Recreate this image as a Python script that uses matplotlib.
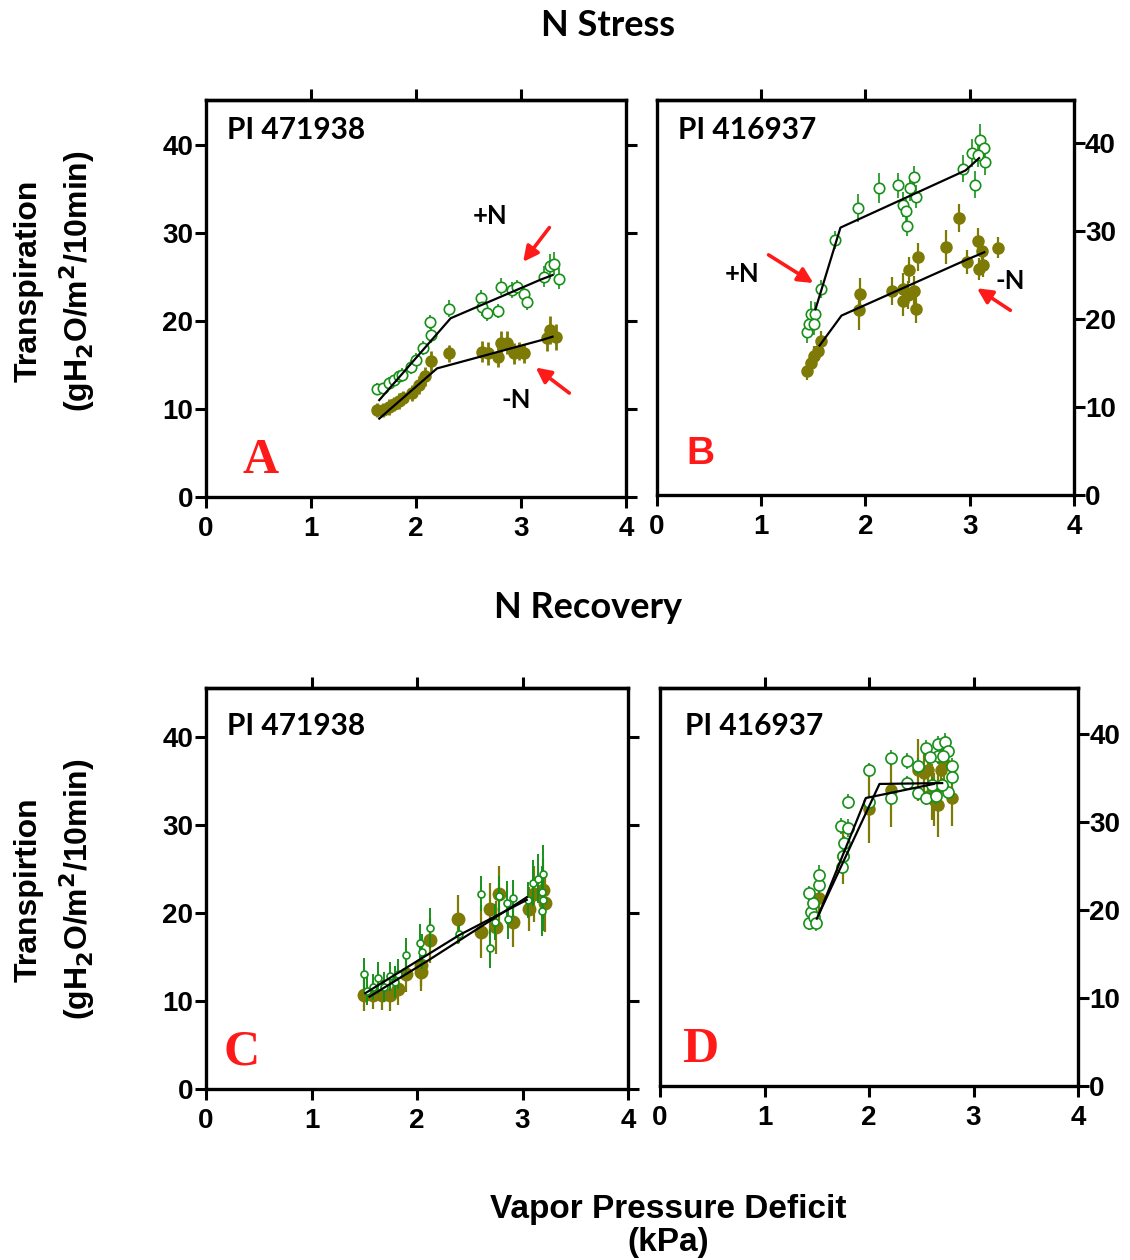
import numpy as np
import matplotlib
matplotlib.use("Agg")
import matplotlib.pyplot as plt

# Data (VPD in kPa, transpiration in g H2O/m2/10min)

# Panel A: N stress, PI 471938
a_plus_x = [1.63, 1.69, 1.74, 1.79, 1.84, 1.87, 1.95, 2.00, 2.07, 2.14, 2.13, 2.31, 2.62, 2.63, 2.68,
            2.78, 2.81, 2.91, 2.96, 3.03, 3.06, 3.22, 3.28, 3.31, 3.36]
a_plus_y = [12.3, 12.4, 12.9, 13.3, 13.7, 13.9, 14.8, 15.6, 16.9, 18.4, 19.9, 21.4, 22.6, 21.6, 20.9,
            21.1, 23.9, 23.5, 23.9, 23.1, 22.2, 25.0, 26.2, 26.5, 24.8]
a_plus_err = [0.6, 0.6, 0.7, 0.6, 0.6, 0.7, 0.8, 0.7, 0.8, 0.9, 0.8, 1.0, 0.9, 1.0, 0.9,
              0.8, 1.0, 0.9, 0.8, 0.9, 1.0, 1.2, 1.4, 1.3, 1.2]
a_minus_x = [1.63, 1.69, 1.74, 1.79, 1.84, 1.88, 1.96, 2.03, 2.09, 2.14, 2.31, 2.63, 2.69, 2.78, 2.81,
             2.87, 2.93, 2.98, 3.03, 3.25, 3.28, 3.33]
a_minus_y = [9.9, 9.9, 10.2, 10.6, 10.9, 11.2, 11.8, 12.7, 13.7, 15.4, 16.3, 16.5, 16.3, 15.9, 17.5,
             17.5, 16.3, 16.6, 16.3, 18.0, 19.0, 18.2]
a_minus_err = [0.8, 0.8, 0.9, 0.8, 0.9, 0.8, 0.9, 1.0, 1.1, 1.2, 1.0, 1.2, 1.3, 1.1, 1.4,
               1.3, 1.2, 1.0, 1.1, 1.4, 1.6, 1.5]
a_fit_plus_x = [1.65, 2.33, 3.19, 3.30]
a_fit_plus_y = [11.0, 20.3, 24.7, 25.2]
a_fit_minus_x = [1.65, 2.20, 3.19, 3.30]
a_fit_minus_y = [8.9, 14.6, 17.8, 18.2]

# Panel B: N stress, PI 416937
b_plus_x = [1.44, 1.46, 1.48, 1.52, 1.51, 1.57, 1.71, 1.93, 2.13, 2.31, 2.43, 2.47, 2.36, 2.39,
            2.40, 2.48, 2.94, 3.02, 3.05, 3.10, 3.14, 3.15, 3.08]
b_plus_y = [18.5, 19.4, 20.6, 20.6, 19.4, 23.4, 29.0, 32.6, 34.9, 35.2, 34.9, 36.1, 33.0, 32.3,
            30.6, 33.9, 37.1, 38.9, 35.3, 40.4, 39.4, 37.9, 38.7]
b_plus_err = [1.2, 1.3, 1.5, 1.4, 1.2, 1.0, 1.0, 1.6, 1.7, 1.4, 1.5, 1.3, 1.4, 1.3,
              1.2, 1.3, 1.5, 1.6, 1.5, 1.8, 1.4, 1.5, 1.4]
b_minus_x = [1.44, 1.48, 1.51, 1.54, 1.57, 1.95, 1.94, 2.25, 2.36, 2.36, 2.41, 2.47, 2.42, 2.50,
             2.48, 2.77, 2.90, 2.97, 3.08, 3.12, 3.09, 3.13, 3.27]
b_minus_y = [14.1, 15.0, 15.8, 16.4, 17.5, 22.9, 21.0, 23.2, 23.4, 22.1, 22.7, 23.2, 25.6, 27.1,
             21.1, 28.2, 31.5, 26.5, 28.9, 27.7, 25.7, 26.2, 28.1]
b_minus_err = [1.0, 1.0, 1.1, 1.0, 1.2, 1.8, 2.2, 1.6, 1.8, 1.7, 1.6, 1.7, 1.5, 1.6,
               1.5, 1.9, 1.6, 1.4, 1.5, 1.4, 1.3, 1.4, 1.2]
b_fit_plus_x = [1.52, 1.76, 2.96, 3.09]
b_fit_plus_y = [21.1, 30.4, 36.9, 38.3]
b_fit_minus_x = [1.56, 1.77, 2.96, 3.14]
b_fit_minus_y = [17.0, 20.4, 26.7, 27.6]

# Panel C: N recovery, PI 471938
c_plus_x = [1.50, 1.53, 1.58, 1.63, 1.69, 1.74, 1.79, 1.82, 1.90, 2.03, 2.05, 2.12, 2.40, 2.61,
            2.69, 2.74, 2.78, 2.85, 2.91, 2.86, 3.05, 3.10, 3.15, 3.19, 3.18, 3.19, 3.18]
c_plus_y = [13.1, 11.1, 11.6, 12.6, 11.6, 12.8, 12.2, 13.1, 15.2, 16.6, 15.6, 18.3, 17.6, 22.2,
            16.0, 19.0, 21.9, 21.2, 21.7, 19.3, 21.5, 23.4, 23.9, 24.5, 22.4, 21.5, 20.2]
c_plus_err = [1.8, 1.6, 1.5, 1.8, 1.7, 1.6, 1.8, 1.7, 2.0, 2.2, 2.0, 2.3, 1.0, 2.0,
              2.2, 2.0, 2.3, 2.4, 2.1, 2.2, 2.0, 2.6, 2.8, 3.2, 3.0, 3.5, 2.8]
c_minus_x = [1.50, 1.58, 1.67, 1.74, 1.82, 1.90, 2.04, 2.04, 2.12, 2.39, 2.61, 2.69, 2.75, 2.78,
             2.91, 3.06, 3.11, 3.19, 3.21]
c_minus_y = [10.7, 10.7, 10.7, 10.7, 11.4, 13.1, 14.1, 13.3, 16.9, 19.3, 17.9, 20.5, 18.4, 22.2,
             19.0, 20.5, 22.2, 22.6, 21.1]
c_minus_err = [1.8, 1.6, 1.7, 1.8, 1.9, 2.1, 2.4, 2.2, 2.6, 2.8, 3.0, 2.9, 3.0, 3.2,
               2.9, 2.5, 3.2, 3.5, 3.3]
c_fit_plus_x = [1.51, 2.40, 3.04]
c_fit_plus_y = [10.9, 17.5, 21.5]
c_fit_minus_x = [1.55, 2.09, 3.04]
c_fit_minus_y = [10.5, 14.5, 21.8]

# Panel D: N recovery, PI 416937
d_plus_x = [1.43, 1.44, 1.46, 1.43, 1.52, 1.52, 1.47, 1.49, 1.74, 1.75, 1.76, 1.73, 1.80, 1.80,
            2.00, 2.00, 2.21, 2.21, 2.36, 2.36, 2.47, 2.47, 2.55, 2.55, 2.60, 2.66, 2.66, 2.73,
            2.76, 2.79, 2.79, 2.76, 2.64, 2.71, 2.58, 2.70]
d_plus_y = [18.5, 19.8, 20.8, 21.9, 22.8, 24.0, 19.2, 18.5, 24.9, 26.1, 27.6, 29.5, 29.3, 32.3,
            35.9, 32.2, 37.2, 32.7, 36.9, 34.4, 36.3, 33.3, 38.4, 32.7, 34.2, 38.8, 37.5, 39.1,
            38.0, 36.3, 35.1, 33.4, 32.9, 37.5, 37.4, 34.2]
d_plus_err = [0.8, 0.7, 0.9, 0.8, 1.0, 1.1, 0.8, 0.9, 0.8, 0.9, 0.8, 0.9, 1.0, 0.9,
              0.8, 0.9, 0.9, 0.8, 0.9, 0.8, 0.9, 0.8, 0.9, 0.8, 0.9, 1.0, 0.9, 1.0,
              0.9, 1.0, 0.9, 0.8, 0.9, 0.8, 0.9, 0.8]
d_minus_x = [1.52, 1.75, 2.00, 2.21, 2.47, 2.53, 2.60, 2.66, 2.69, 2.56, 2.79, 2.62, 2.72]
d_minus_y = [21.3, 26.1, 31.4, 33.6, 35.9, 35.5, 33.4, 31.9, 35.9, 35.9, 32.7, 32.5, 36.7]
d_minus_err = [2.5, 3.2, 3.8, 4.2, 3.5, 3.0, 3.2, 3.6, 3.0, 2.8, 3.2, 3.0, 2.8]
d_fit_plus_x = [1.50, 2.10, 2.70]
d_fit_plus_y = [19.0, 34.3, 34.4]
d_fit_minus_x = [1.52, 1.97, 2.62]
d_fit_minus_y = [19.5, 32.7, 34.3]

x_ticks = [0, 1, 2, 3, 4]
y_ticks = [0, 10, 20, 30, 40]

GREEN = "#17901a"
OLIVE = "#7d7a05"
RED = "#ff1a1a"
ARIAL = "Liberation Sans"
CALIBRI = "Lato"
TICK_FS = 20

plt.rcParams["font.family"] = [ARIAL, "DejaVu Sans"]

fig = plt.figure(figsize=(11.3, 12.6), dpi=100)


def make_axes(rect, ytop, labels_right):
    ax = fig.add_axes(rect)
    ax.set_xlim(0, 4)
    ax.set_ylim(0, ytop)
    for s in ax.spines.values():
        s.set_linewidth(2.4)
    ax.set_xticks(x_ticks)
    ax.set_xticklabels([str(t) for t in x_ticks], fontsize=TICK_FS, fontweight="bold")
    ax.tick_params(axis="x", direction="out", length=8, width=2.2, pad=6)
    ax.set_yticks(y_ticks)
    if labels_right:
        ax.yaxis.tick_right()
        ax.tick_params(axis="y", direction="out", length=8, width=2.2, pad=0,
                       left=False, right=True)
    else:
        ax.tick_params(axis="y", direction="out", length=8, width=2.2, pad=1,
                       left=True, right=True)
    ax.set_yticklabels([str(t) for t in y_ticks], fontsize=TICK_FS, fontweight="bold")
    # ticks on the top spine
    top = ax.secondary_xaxis("top")
    top.set_xticks([1, 2, 3])
    top.set_xticklabels([])
    top.tick_params(direction="out", length=8, width=2.2)
    top.spines["top"].set_linewidth(2.4)
    return ax


def draw_series(ax, x, y, err, open_marker, ms, ebw):
    if open_marker:
        ax.errorbar(x, y, yerr=err, fmt="o", ms=ms, mfc="white", mec=GREEN, mew=1.2,
                    ecolor=GREEN, elinewidth=ebw, capsize=0, zorder=4)
    else:
        ax.errorbar(x, y, yerr=err, fmt="o", ms=ms, mfc=OLIVE, mec=OLIVE, mew=1.0,
                    ecolor=OLIVE, elinewidth=ebw, capsize=0, zorder=3)


def draw_fit(ax, x, y):
    ax.plot(x, y, color="black", lw=1.6, zorder=5)


def arrow(ax, tail, head):
    ax.annotate("", xy=head, xytext=tail,
                arrowprops=dict(arrowstyle="-|>,head_length=0.9,head_width=0.45",
                                color=RED, lw=2.6, shrinkA=0, shrinkB=0))


def pi_label(ax, text, x, y):
    ax.text(x, y, text, transform=ax.transAxes, fontsize=21.5, fontweight="bold",
            family=CALIBRI, va="center", ha="left")


def n_label(ax, text, x, y):
    ax.text(x, y, text, fontsize=18.5, fontweight="bold", family=CALIBRI,
            ha="center", va="center")


def letter(ax, text, x, y, family, size=36):
    ax.text(x, y, text, transform=ax.transAxes, fontsize=size, fontweight="bold",
            family=family, color=RED, ha="center", va="center")


# Panel A
axA = make_axes([0.1823, 0.6056, 0.3717, 0.3151], 45.1, False)
draw_series(axA, a_minus_x, a_minus_y, a_minus_err, False, 8, 2.0)
draw_series(axA, a_plus_x, a_plus_y, a_plus_err, True, 7.5, 1.2)
draw_fit(axA, a_fit_plus_x, a_fit_plus_y)
draw_fit(axA, a_fit_minus_x, a_fit_minus_y)
pi_label(axA, "PI 471938", 0.05, 0.925)
letter(axA, "A", 0.13, 0.09, "Liberation Serif")
n_label(axA, "+N", 2.71, 31.9)
n_label(axA, "-N", 2.95, 11.0)
arrow(axA, (3.27, 30.6), (3.02, 26.7))
arrow(axA, (3.46, 11.8), (3.14, 14.7))

# Panel B
axB = make_axes([0.5814, 0.6071, 0.3690, 0.3135], 44.9, True)
draw_series(axB, b_minus_x, b_minus_y, b_minus_err, False, 8, 1.6)
draw_series(axB, b_plus_x, b_plus_y, b_plus_err, True, 7.5, 1.2)
draw_fit(axB, b_fit_plus_x, b_fit_plus_y)
draw_fit(axB, b_fit_minus_x, b_fit_minus_y)
pi_label(axB, "PI 416937", 0.05, 0.925)
letter(axB, "B", 0.105, 0.105, ARIAL, size=28)
n_label(axB, "+N", 0.82, 25.1)
n_label(axB, "-N", 3.39, 24.3)
arrow(axB, (1.07, 27.3), (1.50, 24.1))
arrow(axB, (3.39, 21.0), (3.07, 23.5))

# Panel C
axC = make_axes([0.1823, 0.1357, 0.3735, 0.3183], 45.6, False)
draw_series(axC, c_minus_x, c_minus_y, c_minus_err, False, 9, 1.6)
draw_series(axC, c_plus_x, c_plus_y, c_plus_err, True, 5, 1.4)
draw_fit(axC, c_fit_plus_x, c_fit_plus_y)
draw_fit(axC, c_fit_minus_x, c_fit_minus_y)
pi_label(axC, "PI 471938", 0.05, 0.905)
letter(axC, "C", 0.085, 0.09, "Liberation Serif")

# Panel D
axD = make_axes([0.5841, 0.1381, 0.3699, 0.3159], 45.2, True)
draw_series(axD, d_minus_x, d_minus_y, d_minus_err, False, 8, 1.6)
draw_series(axD, d_plus_x, d_plus_y, d_plus_err, True, 8, 1.2)
draw_fit(axD, d_fit_plus_x, d_fit_plus_y)
draw_fit(axD, d_fit_minus_x, d_fit_minus_y)
pi_label(axD, "PI 416937", 0.06, 0.905)
letter(axD, "D", 0.095, 0.09, "Liberation Serif")

# Titles and shared axis labels
fig.text(0.538, 0.980, "N Stress", fontsize=26, fontweight="bold", family=CALIBRI,
         ha="center", va="center")
fig.text(0.520, 0.518, "N Recovery", fontsize=26, fontweight="bold", family=CALIBRI,
         ha="center", va="center")
fig.text(0.591, 0.027, "Vapor Pressure Deficit\n(kPa)", fontsize=24, fontweight="bold",
         family=ARIAL, ha="center", va="center", linespacing=1.12)
ylab = "\n(gH$_\\mathbf{2}$O/m$^\\mathbf{2}$/10min)"
fig.text(0.049, 0.777, "Transpiration" + ylab, fontsize=23, fontweight="bold",
         family=ARIAL, rotation=90, ha="center", va="center", linespacing=1.45)
fig.text(0.049, 0.294, "Transpirtion" + ylab, fontsize=23, fontweight="bold",
         family=ARIAL, rotation=90, ha="center", va="center", linespacing=1.45)

fig.savefig("out.png", dpi=100)
